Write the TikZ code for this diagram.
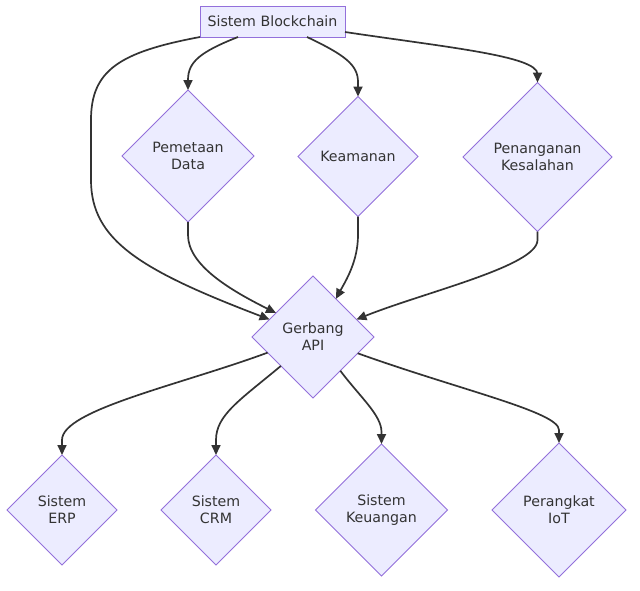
\documentclass[tikz,border=0pt]{standalone}
\usepackage{fontspec}
\setmainfont{DejaVu Sans}
\usetikzlibrary{shapes.geometric,arrows.meta,calc}
\definecolor{nodefill}{HTML}{ECECFF}
\definecolor{nodeborder}{HTML}{9370DB}
\definecolor{ink}{HTML}{333333}
\tikzset{
  box/.style={draw=nodeborder, fill=nodefill, line width=0.8pt, text=ink,
    font=\fontsize{14.2}{17}\selectfont, align=center, outer sep=0pt,
    minimum width=145pt, minimum height=31pt, inner sep=0pt},
  dia/.style={diamond, draw=nodeborder, fill=nodefill, line width=0.8pt, text=ink,
    font=\fontsize{14.2}{17}\selectfont, align=center, outer sep=0pt, inner sep=0pt,
    minimum width=#1, minimum height=#1},
  arr/.style={draw=ink, line width=1.7pt, -{Triangle[length=10pt,width=9pt]}}
}
\begin{document}
\begin{tikzpicture}[x=1pt,y=-1pt]
\useasboundingbox (0,0) rectangle (640,590);
\fill[white] (0,0) rectangle (640,590);
\node[box] (top) at (272.5,21.5) {Sistem Blockchain};
\node[dia=132pt] (pem) at (188,156) {Pemetaan\\Data};
\node[dia=120pt] (kea) at (358,156.5) {Keamanan};
\node[dia=149pt] (pen) at (537.5,157) {Penanganan\\Kesalahan};
\node[dia=122pt] (g) at (313,337) {Gerbang\\API};
\node[dia=110pt] (erp) at (62,510) {Sistem\\ERP};
\node[dia=110pt] (crm) at (216,510) {Sistem\\CRM};
\node[dia=132pt] (keu) at (381.5,510) {Sistem\\Keuangan};
\node[dia=134pt] (iot) at (559,510) {Perangkat\\IoT};

% from top
\draw[arr] (top.south west) .. controls (120,52) and (91,70) .. (91,120) -- (91,180)
  .. controls (91,240) and (140,270) .. (g.158);
\draw[arr] ($(top.south)+(-34.5,0)$) .. controls (200,52) and (188,62) .. (188,80) -- (pem.north);
\draw[arr] ($(top.south)+(34.5,0)$) .. controls (345,55) and (358,65) .. (358,82) -- (kea.north);
\draw[arr] ($(top.east)+(0,10.5)$) .. controls (445,47) and (537.5,56) .. (537.5,74) -- (pen.north);

% into gateway
\draw[arr] (pem.south) -- (188,235) .. controls (188,265) and (230,290) .. (g.147);
\draw[arr] (kea.south) -- (358,235) .. controls (358,262) and (345,282) .. (g.59);
\draw[arr] (pen.south) -- (537.5,240) .. controls (537.5,266) and (425,292) .. (g.22);

% out of gateway
\draw[arr] (g.199) .. controls (180,385) and (62,410) .. (62,440) -- (erp.north);
\draw[arr] (g.222) .. controls (240,400) and (216,415) .. (216,440) -- (crm.north);
\draw[arr] (g.309) .. controls (360,397) and (381.5,415) .. (381.5,432) -- (keu.north);
\draw[arr] (g.340) .. controls (460,390) and (559,412) .. (559,430) -- (iot.north);
\end{tikzpicture}
\end{document}
